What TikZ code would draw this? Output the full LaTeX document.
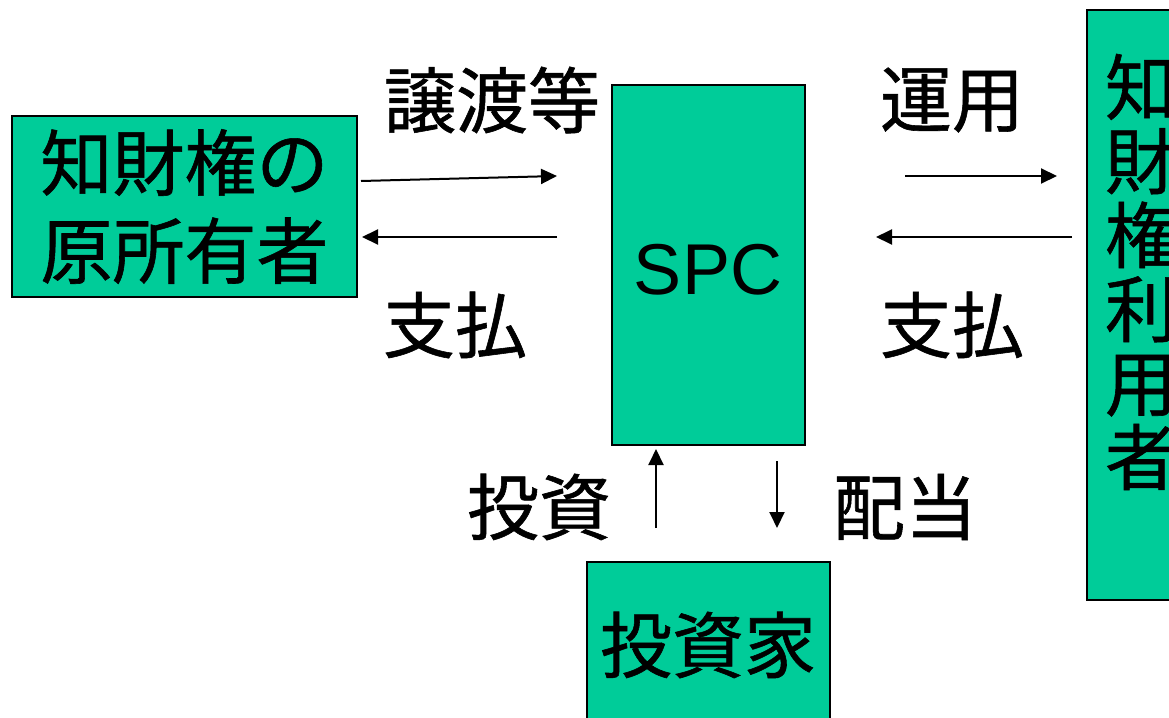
\documentclass[tikz,border=0pt]{standalone}
\usepackage{fontspec}
\setmainfont{Liberation Sans}
\newfontfamily\cjk[FakeBold=0.8,BoldFont={Noto Sans CJK JP}]{Noto Sans CJK JP}
\usetikzlibrary{arrows.meta}
\definecolor{boxgreen}{RGB}{0,204,153}
\tikzset{
  gbox/.style={draw=black, line width=2pt, fill=boxgreen, inner sep=0pt},
  big/.style={font=\cjk\bfseries\fontsize{72}{88}\selectfont, inner sep=0pt, align=center},
  arr/.style={line width=2pt, -{Triangle[length=16pt,width=15pt]}},
}
\begin{document}
\begin{tikzpicture}[x=1pt,y=-1pt]
\useasboundingbox (0,0) rectangle (1169,717);
% boxes
\node[gbox, minimum width=345pt, minimum height=181pt, big] (owner) at (184.5,206.5) {知財権の\\原所有者};
\node[gbox, minimum width=193pt, minimum height=360pt] (spc) at (708.5,265) {};
\node[font=\fontsize{72}{88}\selectfont, inner sep=0pt] (spct) at (708,270) {SPC};
\node[gbox, minimum width=110pt, minimum height=590pt] (user) at (1142,305) {};
\node[font=\cjk\bfseries\fontsize{72}{74}\selectfont, inner sep=0pt, align=center] (usert) at (1141,272) {知\\財\\権\\利\\用\\者};
\node[gbox, minimum width=243pt, minimum height=190pt] (inv) at (708.5,657) {};
\node[big] (invt) at (708,645) {投資家};
% labels
\node[big] (l1) at (492,100) {譲渡等};
\node[big] (l2) at (455,325) {支払};
\node[big] (l3) at (952,100) {運用};
\node[big] (l4) at (952,325) {支払};
\node[big] (l5) at (539,507) {投資};
\node[big] (l6) at (905,507) {配当};
% arrow end points
\coordinate (a1s) at (361,181); \coordinate (a1e) at (557,176);
\coordinate (a2s) at (557,237); \coordinate (a2e) at (362,237);
\coordinate (a3s) at (905,176); \coordinate (a3e) at (1057,176);
\coordinate (a4s) at (1072,237); \coordinate (a4e) at (876,237);
\coordinate (a5s) at (656,528); \coordinate (a5e) at (656,449);
\coordinate (a6s) at (777,461); \coordinate (a6e) at (777,528);
\draw[arr] (a1s) -- (a1e);
\draw[arr] (a2s) -- (a2e);
\draw[arr] (a3s) -- (a3e);
\draw[arr] (a4s) -- (a4e);
\draw[arr] (a5s) -- (a5e);
\draw[arr] (a6s) -- (a6e);
\end{tikzpicture}
\end{document}
